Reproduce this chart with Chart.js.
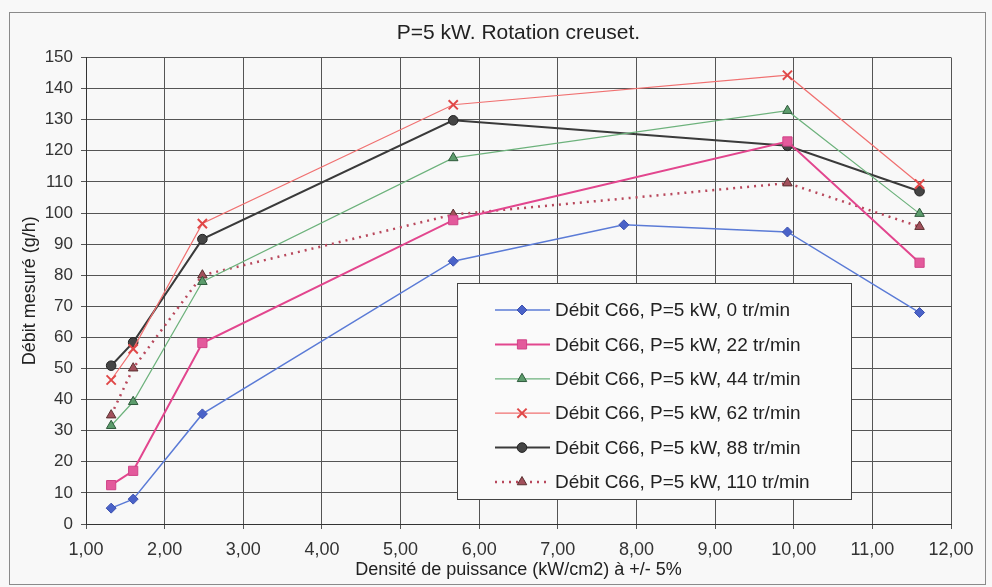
<!DOCTYPE html>
<html>
<head>
<meta charset="utf-8">
<script src="https://cdn.jsdelivr.net/npm/chart.js@4.4.1/dist/chart.umd.min.js"></script>
<style>
    html, body { margin: 0; padding: 0; background: #f8f8f8; }
    #wrap { position: relative; width: 992px; height: 587px; }
</style>
</head>
<body>
<div id="wrap"><canvas id="chart" width="992" height="587"></canvas></div>
<script>
// densité de puissance (kW/cm2)
const xDensite = [1.32, 1.60, 2.48, 5.67, 9.92, 11.60];
const xDensite0 = [1.32, 1.60, 2.48, 5.67, 7.84, 9.92, 11.60];

// débit mesuré (g/h)
const debit0 = [5.1, 8.0, 35.4, 84.5, 96.2, 93.9, 68.0];
const debit22 = [12.5, 17.1, 58.2, 97.7, 123.0, 84.0];
const debit44 = [31.6, 39.3, 77.9, 117.7, 132.9, 99.8];
const debit62 = [46.3, 56.3, 96.6, 134.8, 144.3, 109.3];
const debit88 = [50.9, 58.4, 91.6, 129.8, 121.6, 107.0];
const debit110 = [35.0, 50.1, 80.0, 99.5, 109.6, 95.6];

const labels = [
    "Débit C66, P=5 kW, 0 tr/min",
    "Débit C66, P=5 kW, 22 tr/min",
    "Débit C66, P=5 kW, 44 tr/min",
    "Débit C66, P=5 kW, 62 tr/min",
    "Débit C66, P=5 kW, 88 tr/min",
    "Débit C66, P=5 kW, 110 tr/min"
];

const chartTitle = "P=5 kW. Rotation creuset.";

const pts = (xs, ys) => ys.map((y, i) => ({ x: xs[i], y: y }));

const FONT = "'Liberation Sans', Arial, sans-serif";

const series = [
    { data: pts(xDensite0, debit0), line: "#5b7bd6", fill: "#4a62c8", edge: "#3d52b0", style: "rectRot", r: 5, w: 1.5 },
    { data: pts(xDensite, debit22), line: "#e2468e", fill: "#e35a9c", edge: "#d04488", style: "rect", r: 6.5, w: 2 },
    { data: pts(xDensite, debit44), line: "#6db27c", fill: "#5c9c6c", edge: "#2f5a3c", style: "triangle", r: 5.5, w: 1.2 },
    { data: pts(xDensite, debit62), line: "#f07070", fill: "#e04848", edge: "#e04848", style: "crossRot", r: 6.5, w: 1.2 },
    { data: pts(xDensite, debit88), line: "#3a3a3a", fill: "#454545", edge: "#222222", style: "circle", r: 4.8, w: 2 },
    { data: pts(xDensite, debit110), line: "#b8485c", fill: "#a2505c", edge: "#5a3030", style: "triangle", r: 5.5, w: 2.5, dash: [2, 5] }
];

const datasets = series.map((s, i) => ({
    label: labels[i],
    data: s.data,
    showLine: true,
    borderColor: s.line,
    borderWidth: s.w,
    borderDash: s.dash || [],
    pointStyle: s.style,
    pointRadius: s.r,
    pointBackgroundColor: s.fill,
    pointBorderColor: s.edge,
    pointBorderWidth: s.style === "crossRot" ? 2 : 1,
    tension: 0
}));

// background, outer frame and title centred over the plot
const frame = {
    id: "frame",
    beforeDraw(chart) {
        const ctx = chart.ctx;
        const area = chart.chartArea;
        ctx.save();
        ctx.fillStyle = "#f8f8f8";
        ctx.fillRect(0, 0, chart.width, chart.height);
        ctx.strokeStyle = "#8a8a8a";
        ctx.lineWidth = 1;
        ctx.strokeRect(9.5, 12.5, 976, 572);
        ctx.fillStyle = "#222";
        ctx.font = "21px " + FONT;
        ctx.textAlign = "center";
        ctx.textBaseline = "middle";
        ctx.fillText(chartTitle, (area.left + area.right) / 2, 33);
        ctx.restore();
    }
};

const boxLegend = {
    id: "boxLegend",
    afterDraw(chart) {
        const ctx = chart.ctx;
        const L = 457, T = 283, W = 394, H = 216;
        ctx.save();
        ctx.fillStyle = "#fafafa";
        ctx.fillRect(L, T, W, H);
        ctx.strokeStyle = "#444";
        ctx.lineWidth = 1;
        ctx.strokeRect(L + 0.5, T + 0.5, W, H);
        series.forEach((s, i) => {
            const y = 310 + i * 34.4;
            ctx.strokeStyle = s.line;
            ctx.lineWidth = s.w;
            ctx.setLineDash(s.dash || []);
            ctx.beginPath();
            ctx.moveTo(495, y);
            ctx.lineTo(550, y);
            ctx.stroke();
            ctx.setLineDash([]);
            ctx.fillStyle = s.fill;
            ctx.strokeStyle = s.edge;
            ctx.lineWidth = s.style === "crossRot" ? 2 : 1;
            Chart.helpers.drawPoint(ctx, { pointStyle: s.style, radius: s.r, rotation: 0, borderWidth: ctx.lineWidth }, 522, y);
            ctx.fillStyle = "#222";
            ctx.font = "19px " + FONT;
            ctx.textBaseline = "middle";
            ctx.textAlign = "left";
            ctx.fillText(labels[i], 555, y + 1);
        });
        ctx.restore();
    }
};

new Chart(document.getElementById("chart"), {
    type: "scatter",
    data: { datasets: datasets },
    plugins: [frame, boxLegend],
    options: {
        responsive: false,
        animation: false,
        layout: { padding: { left: 0, right: 41, top: 57.5, bottom: 0 } },
        plugins: {
            legend: { display: false },
            tooltip: { enabled: false },
            title: { display: false }
        },
        scales: {
            x: {
                type: "linear",
                min: 1,
                max: 12,
                ticks: {
                    stepSize: 1,
                    color: "#333",
                    padding: 10,
                    font: { family: FONT, size: 18 },
                    callback: v => v.toFixed(2).replace(".", ",")
                },
                grid: { color: "#555", lineWidth: 1, tickLength: 5 },
                border: { color: "#333", width: 1 },
                title: {
                    display: true,
                    text: "Densité de puissance (kW/cm2) à +/- 5%",
                    color: "#222",
                    font: { family: FONT, size: 18 },
                    padding: { top: 0, bottom: 6 }
                },
                afterFit: s => { s.height = 63; }
            },
            y: {
                min: 0,
                max: 150,
                ticks: {
                    stepSize: 10,
                    color: "#333",
                    padding: 8,
                    font: { family: FONT, size: 17 }
                },
                grid: { color: "#555", lineWidth: 1, tickLength: 5 },
                border: { color: "#333", width: 1 },
                title: {
                    display: true,
                    text: "Débit mesuré (g/h)",
                    color: "#222",
                    font: { family: FONT, size: 18 },
                    padding: { top: 19, bottom: 0 }
                },
                afterFit: s => { s.width = 86; }
            }
        }
    }
});
</script>
</body>
</html>
